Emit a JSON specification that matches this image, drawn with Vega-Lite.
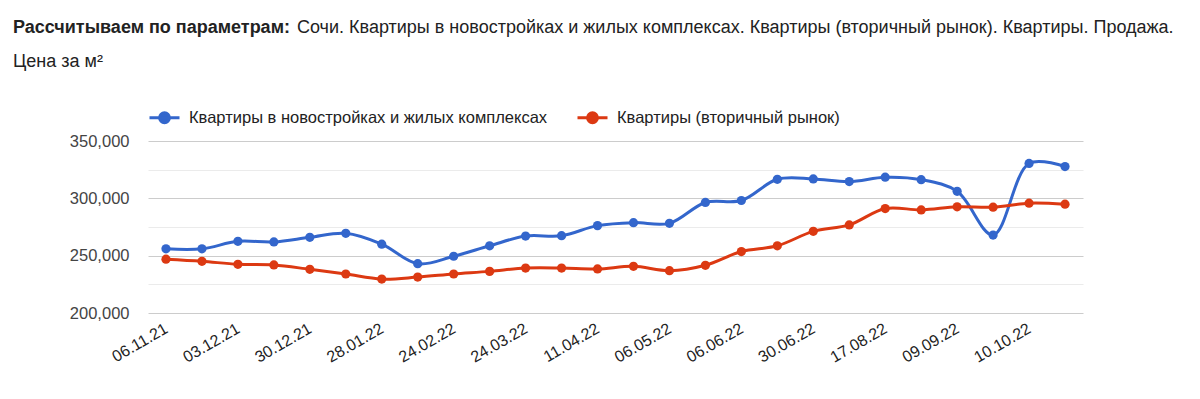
{
  "$schema": "https://vega.github.io/schema/vega-lite/v6.json",
  "padding": {"left": 13, "top": 19, "right": 5, "bottom": 5},
  "background": "white",
  "config": {"view": {"stroke": null}, "font": "Liberation Sans"},
  "title": {
    "text": "Сочи. Квартиры в новостройках и жилых комплексах. Квартиры (вторичный рынок). Квартиры. Продажа.",
    "anchor": "start", "frame": "bounds", "fontSize": 18, "fontWeight": "normal", "color": "#222222",
    "font": "Liberation Sans", "offset": 0, "dx": 284, "dy": 18
  },
  "resolve": {"legend": {"color": "independent"}, "scale": {"color": "independent"}},
  "vconcat": [
    {
      "title": {
        "text": "Рассчитываем по параметрам:", "subtitle": "Цена за м²",
        "anchor": "start", "frame": "bounds", "fontSize": 18, "fontWeight": "bold", "color": "#222222",
        "font": "Liberation Sans", "subtitleFont": "Liberation Sans", "subtitleFontSize": 18,
        "subtitleColor": "#222222", "subtitlePadding": 16, "offset": 30
      },
      "resolve": {"legend": {"color": "independent"}, "scale": {"color": "independent"}},
      "vconcat": [
        {
          "width": 935,
          "height": 172,
          "data": {
            "values": [
              {"date": "06.11.21", "series": "Квартиры в новостройках и жилых комплексах", "value": 256000},
              {"date": "20.11.21", "series": "Квартиры в новостройках и жилых комплексах", "value": 256000},
              {"date": "03.12.21", "series": "Квартиры в новостройках и жилых комплексах", "value": 262500},
              {"date": "17.12.21", "series": "Квартиры в новостройках и жилых комплексах", "value": 262000},
              {"date": "30.12.21", "series": "Квартиры в новостройках и жилых комплексах", "value": 266000},
              {"date": "14.01.22", "series": "Квартиры в новостройках и жилых комплексах", "value": 269500},
              {"date": "28.01.22", "series": "Квартиры в новостройках и жилых комплексах", "value": 260000},
              {"date": "10.02.22", "series": "Квартиры в новостройках и жилых комплексах", "value": 243000},
              {"date": "24.02.22", "series": "Квартиры в новостройках и жилых комплексах", "value": 249500},
              {"date": "10.03.22", "series": "Квартиры в новостройках и жилых комплексах", "value": 258600},
              {"date": "24.03.22", "series": "Квартиры в новостройках и жилых комплексах", "value": 267100},
              {"date": "01.04.22", "series": "Квартиры в новостройках и жилых комплексах", "value": 267400},
              {"date": "11.04.22", "series": "Квартиры в новостройках и жилых комплексах", "value": 276200},
              {"date": "24.04.22", "series": "Квартиры в новостройках и жилых комплексах", "value": 278800},
              {"date": "06.05.22", "series": "Квартиры в новостройках и жилых комплексах", "value": 278200},
              {"date": "20.05.22", "series": "Квартиры в новостройках и жилых комплексах", "value": 296400},
              {"date": "06.06.22", "series": "Квартиры в новостройках и жилых комплексах", "value": 298100},
              {"date": "18.06.22", "series": "Квартиры в новостройках и жилых комплексах", "value": 316600},
              {"date": "30.06.22", "series": "Квартиры в новостройках и жилых комплексах", "value": 316900},
              {"date": "25.07.22", "series": "Квартиры в новостройках и жилых комплексах", "value": 314600},
              {"date": "17.08.22", "series": "Квартиры в новостройках и жилых комплексах", "value": 318400},
              {"date": "28.08.22", "series": "Квартиры в новостройках и жилых комплексах", "value": 316300},
              {"date": "09.09.22", "series": "Квартиры в новостройках и жилых комплексах", "value": 306100},
              {"date": "25.09.22", "series": "Квартиры в новостройках и жилых комплексах", "value": 268000},
              {"date": "10.10.22", "series": "Квартиры в новостройках и жилых комплексах", "value": 330400},
              {"date": "25.10.22", "series": "Квартиры в новостройках и жилых комплексах", "value": 327700},
              {"date": "06.11.21", "series": "Квартиры (вторичный рынок)", "value": 246900},
              {"date": "20.11.21", "series": "Квартиры (вторичный рынок)", "value": 245100},
              {"date": "03.12.21", "series": "Квартиры (вторичный рынок)", "value": 242500},
              {"date": "17.12.21", "series": "Квартиры (вторичный рынок)", "value": 241900},
              {"date": "30.12.21", "series": "Квартиры (вторичный рынок)", "value": 238100},
              {"date": "14.01.22", "series": "Квартиры (вторичный рынок)", "value": 234000},
              {"date": "28.01.22", "series": "Квартиры (вторичный рынок)", "value": 229600},
              {"date": "10.02.22", "series": "Квартиры (вторичный рынок)", "value": 231300},
              {"date": "24.02.22", "series": "Квартиры (вторичный рынок)", "value": 234000},
              {"date": "10.03.22", "series": "Квартиры (вторичный рынок)", "value": 236300},
              {"date": "24.03.22", "series": "Квартиры (вторичный рынок)", "value": 239200},
              {"date": "01.04.22", "series": "Квартиры (вторичный рынок)", "value": 239200},
              {"date": "11.04.22", "series": "Квартиры (вторичный рынок)", "value": 238400},
              {"date": "24.04.22", "series": "Квартиры (вторичный рынок)", "value": 240700},
              {"date": "06.05.22", "series": "Квартиры (вторичный рынок)", "value": 236900},
              {"date": "20.05.22", "series": "Квартиры (вторичный рынок)", "value": 241600},
              {"date": "06.06.22", "series": "Квартиры (вторичный рынок)", "value": 253600},
              {"date": "18.06.22", "series": "Квартиры (вторичный рынок)", "value": 258600},
              {"date": "30.06.22", "series": "Квартиры (вторичный рынок)", "value": 271200},
              {"date": "25.07.22", "series": "Квартиры (вторичный рынок)", "value": 276800},
              {"date": "17.08.22", "series": "Квартиры (вторичный рынок)", "value": 291100},
              {"date": "28.08.22", "series": "Квартиры (вторичный рынок)", "value": 289900},
              {"date": "09.09.22", "series": "Квартиры (вторичный рынок)", "value": 292600},
              {"date": "25.09.22", "series": "Квартиры (вторичный рынок)", "value": 292300},
              {"date": "10.10.22", "series": "Квартиры (вторичный рынок)", "value": 295800},
              {"date": "25.10.22", "series": "Квартиры (вторичный рынок)", "value": 294900}
            ]
          },
          "mark": {
            "type": "line", "interpolate": "catmull-rom", "strokeWidth": 3,
            "point": {"filled": true, "size": 85}
          },
          "encoding": {
            "x": {
              "field": "date", "type": "ordinal", "sort": null,
              "scale": {"type": "point", "padding": 0.5},
              "axis": {
                "title": null,
                "values": ["06.11.21", "03.12.21", "30.12.21", "28.01.22", "24.02.22", "24.03.22", "11.04.22", "06.05.22", "06.06.22", "30.06.22", "17.08.22", "09.09.22", "10.10.22"],
                "labelAngle": -30, "labelAlign": "right", "labelBaseline": "middle", "labelPadding": 14,
                "ticks": false, "domain": false, "grid": false,
                "labelFontSize": 16, "labelColor": "#222222", "labelFont": "Liberation Sans"
              }
            },
            "y": {
              "field": "value", "type": "quantitative",
              "scale": {"domain": [200000, 350000], "zero": false, "nice": false},
              "axis": {
                "title": null,
                "values": [200000, 225000, 250000, 275000, 300000, 325000, 350000],
                "labelExpr": "datum.value % 50000 === 0 ? format(datum.value, ',') : ''",
                "gridColor": {"condition": {"test": "datum.value % 50000 === 0", "value": "#cccccc"}, "value": "#ebebeb"},
                "domain": false, "ticks": false, "labelPadding": 19, "minExtent": 135,
                "labelFontSize": 16.5, "labelColor": "#444444", "labelFont": "Liberation Sans"
              }
            },
            "color": {
              "field": "series", "type": "nominal",
              "scale": {
                "domain": ["Квартиры в новостройках и жилых комплексах", "Квартиры (вторичный рынок)"],
                "range": ["#3366cc", "#dc3912"]
              },
              "legend": {
                "orient": "top", "title": null, "direction": "horizontal",
                "symbolType": "M-1,0L1,0M-0.33,0A0.33,0.33,0,1,0,0.33,0A0.33,0.33,0,1,0,-0.33,0Z",
                "symbolSize": 900, "symbolStrokeWidth": 3,
                "labelFontSize": 16.5, "labelColor": "#222222", "labelFont": "Liberation Sans",
                "labelLimit": 0, "columnPadding": 23, "labelOffset": 8, "offset": 12
              }
            }
          }
        }
      ]
    }
  ]
}
